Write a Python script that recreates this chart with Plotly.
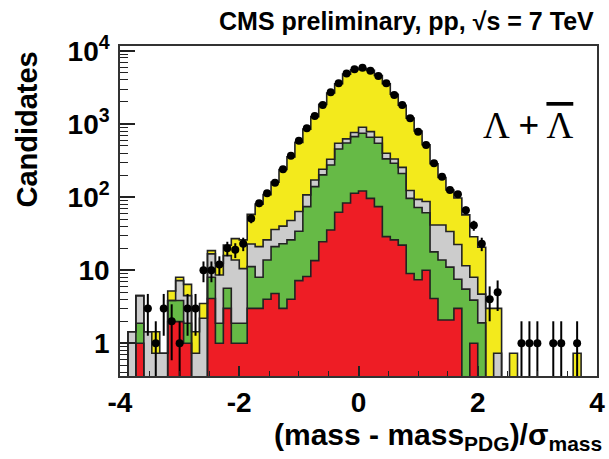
import numpy as np
import plotly.graph_objects as go

# ---------------- data ----------------
x_min, x_max, n_bins = -4.0, 4.0, 60

data_counts = [0, 0, 0, 3, 1, 3, 2, 1, 3, 3,
               10, 10, 12, 20, 19, 23, 51, 82, 113, 157,
               240, 368, 591, 873, 1288, 1820, 2716, 3600, 4900, 5600,
               5890, 5360, 4540, 3600, 2490, 1820, 1200, 785, 517, 290,
               190, 125, 109, 66, 41, 23, 4, 5, 0, 0,
               1, 1, 1, 0, 1, 1, 0, 1, 0, 0]

# stacked (cumulative) heights of each layer
stack_yellow = [0, 1.44, 4.48, 1.44, 1.44, 0.73, 5.2, 8.0, 6.4, 1.44,
                3.5, 18.5, 12.5, 22, 27, 26, 58, 80, 108, 160,
                238, 355, 560, 850, 1260, 1850, 2650, 3550, 4800, 5500,
                5750, 5400, 4600, 3550, 2550, 1800, 1200, 800, 520, 285,
                185, 125, 97, 57, 28.7, 20.6, 3.0, 3.0, 0, 0.73,
                0, 0, 0, 0, 0, 0, 0, 0.73, 0, 0]

stack_gray = [0, 1.44, 4.48, 1.44, 0.73, 0.73, 3.84, 7.2, 4.48, 0.73,
              2.2, 16.7, 8.6, 15.8, 13.8, 10.5, 22.8, 21, 26, 36,
              40, 47.7, 63.6, 107, 171, 240, 329, 545, 624, 762,
              901, 785, 658, 397, 332, 255, 123, 93, 87, 41.5,
              41.5, 33.8, 22.5, 11.5, 8.0, 4.7, 0, 0.73, 0, 0,
              0, 0, 0, 0, 0, 0, 0, 0, 0, 0]

stack_green = [0, 0, 1.88, 0, 0, 0, 3.84, 3.84, 1.88, 0,
               0, 8.0, 1.88, 5.65, 1.88, 1.88, 11.2, 8.0, 13.8, 21,
               23, 26, 34, 74, 139, 201, 275, 455, 550, 671,
               746, 658, 544, 333, 290, 210, 96, 72, 61, 17.8,
               13.8, 11, 7.5, 5.5, 3.9, 1.9, 0, 0, 0, 0,
               0, 0, 0, 0, 0, 0, 0, 0, 0, 0]

stack_red = [0, 0, 1.0, 0, 0, 0, 1.98, 1.98, 1.0, 0,
             0, 4.1, 1.0, 3.0, 1.0, 1.0, 3.0, 3.0, 4.0, 4.8,
             3.0, 4.0, 7.2, 8.2, 13.5, 24.5, 35.5, 62, 83, 113,
             121, 96, 74, 28.8, 26, 22, 9.0, 7.4, 10, 4.1,
             2.08, 2.08, 3.0, 0, 1.0, 0, 0, 0, 0, 0,
             0, 0, 0, 0, 0, 0, 0, 0, 0, 0]

x_tick_vals = [-4, -2, 0, 2, 4]
x_tick_text = ["-4", "-2", "0", "2", "4"]
y_tick_vals = [1, 10, 100, 1000, 10000]
y_tick_text = ["1", "10", "10<sup>2</sup>", "10<sup>3</sup>", "10<sup>4</sup>"]

# ---------------- derived ----------------
edges = np.linspace(x_min, x_max, n_bins + 1)
centers = 0.5 * (edges[:-1] + edges[1:])
bw = edges[1] - edges[0]
FLOOR = 1e-3  # below the visible log range


def step_xy(vals):
    xs, ys = [], []
    for i, v in enumerate(vals):
        y = v if v > 0 else FLOOR
        xs += [edges[i], edges[i + 1]]
        ys += [y, y]
    return xs, ys


fig = go.Figure()

layers = [
    (stack_yellow, "#F3EA1C"),
    (stack_gray, "#CCCCCC"),
    (stack_green, "#66BA46"),
    (stack_red, "#EE1D25"),
]
for vals, col in layers:
    fig.add_trace(go.Bar(
        x=centers, y=[v if v > 0 else None for v in vals], width=bw,
        marker=dict(color=col, line=dict(width=0)),
        hoverinfo="skip", showlegend=False))
    sx, sy = step_xy(vals)
    fig.add_trace(go.Scatter(
        x=sx, y=sy, mode="lines", line=dict(color="#222222", width=1.6),
        hoverinfo="skip", showlegend=False))

cnt = np.array(data_counts, dtype=float)
mask = cnt > 0
err = np.sqrt(cnt[mask])
err_lo = np.minimum(err, cnt[mask] * 0.999)
fig.add_trace(go.Scatter(
    x=centers[mask], y=cnt[mask], mode="markers",
    marker=dict(color="black", size=8, symbol="circle"),
    error_y=dict(type="data", array=err, arrayminus=err_lo, color="black",
                 thickness=2, width=0),
    error_x=dict(type="constant", value=bw * 0.45, color="black",
                 thickness=2, width=0),
    showlegend=False, hoverinfo="skip"))

# ---------------- layout ----------------
L, R, T, B = 120, 4, 46, 83
W, H = 609, 459
pw, ph = W - L - R, H - T - B


def px_x(p):
    return (p - L) / pw


def px_y(p):
    return (H - B - p) / ph


tick_font = dict(family="Liberation Sans, Arial, sans-serif", size=28,
                 color="black", weight="bold")

minor_y = [m * 10.0 ** e for e in range(-1, 4) for m in range(2, 10)]
minor_y = [v for v in minor_y if v > 0.357]

fig.update_layout(
    width=W, height=H,
    margin=dict(l=L, r=R, t=T, b=B),
    paper_bgcolor="white", plot_bgcolor="white",
    barmode="overlay", bargap=0, showlegend=False,
    xaxis=dict(range=[x_min, x_max], tickmode="array", tickvals=x_tick_vals,
               ticktext=x_tick_text, ticks="inside", ticklen=10, tickwidth=1.5,
               tickcolor="#222", showline=True, mirror=True, linecolor="#333",
               linewidth=1.5, showgrid=False, zeroline=False,
               tickfont=tick_font, ticklabeloverflow="allow",
               ticklabelstandoff=1,
               minor=dict(ticks="inside", ticklen=5, tickwidth=1.2,
                          tickcolor="#222", dtick=0.5, tick0=0,
                          showgrid=False)),
    yaxis=dict(type="log", range=[np.log10(0.357), 4.066], tickmode="array",
               tickvals=y_tick_vals, ticktext=y_tick_text, ticks="inside",
               ticklen=15, tickwidth=1.5, tickcolor="#222", showline=True,
               mirror=True, linecolor="#333", linewidth=1.5, showgrid=False,
               zeroline=False, tickfont=tick_font, ticklabelstandoff=3,
               ticklabeloverflow="allow",
               minor=dict(ticks="inside", ticklen=8, tickwidth=1.2,
                          tickcolor="#222", tickmode="array",
                          tickvals=minor_y, showgrid=False)),
)

fig.add_annotation(
    text="CMS preliminary, pp, \u221As = 7 TeV", xref="paper", yref="paper",
    x=px_x(604), y=px_y(21), xanchor="right", yanchor="middle",
    showarrow=False,
    font=dict(family="Liberation Sans, Arial, sans-serif", size=25,
              color="black", weight="bold"))

fig.add_annotation(
    text="Candidates", xref="paper", yref="paper", textangle=-90,
    x=px_x(25), y=px_y(130), xanchor="center", yanchor="middle",
    showarrow=False,
    font=dict(family="Liberation Sans, Arial, sans-serif", size=29,
              color="black", weight="bold"))

fig.add_annotation(
    text="(mass - mass<sub>PDG</sub>)/\u03c3<sub>mass</sub>",
    xref="paper", yref="paper", x=px_x(612), y=px_y(436),
    xanchor="right", yanchor="middle", showarrow=False,
    font=dict(family="Liberation Sans, Arial, sans-serif", size=30,
              color="black", weight="bold"))

fig.add_annotation(
    text="\u039b <b>+</b> <span style='text-decoration:overline'>\u039b</span>",
    xref="paper", yref="paper", x=px_x(535), y=px_y(125),
    xanchor="center", yanchor="middle", showarrow=False,
    font=dict(family="Liberation Serif, Times New Roman, serif", size=37,
              color="black"))

fig.write_html("out.html")
